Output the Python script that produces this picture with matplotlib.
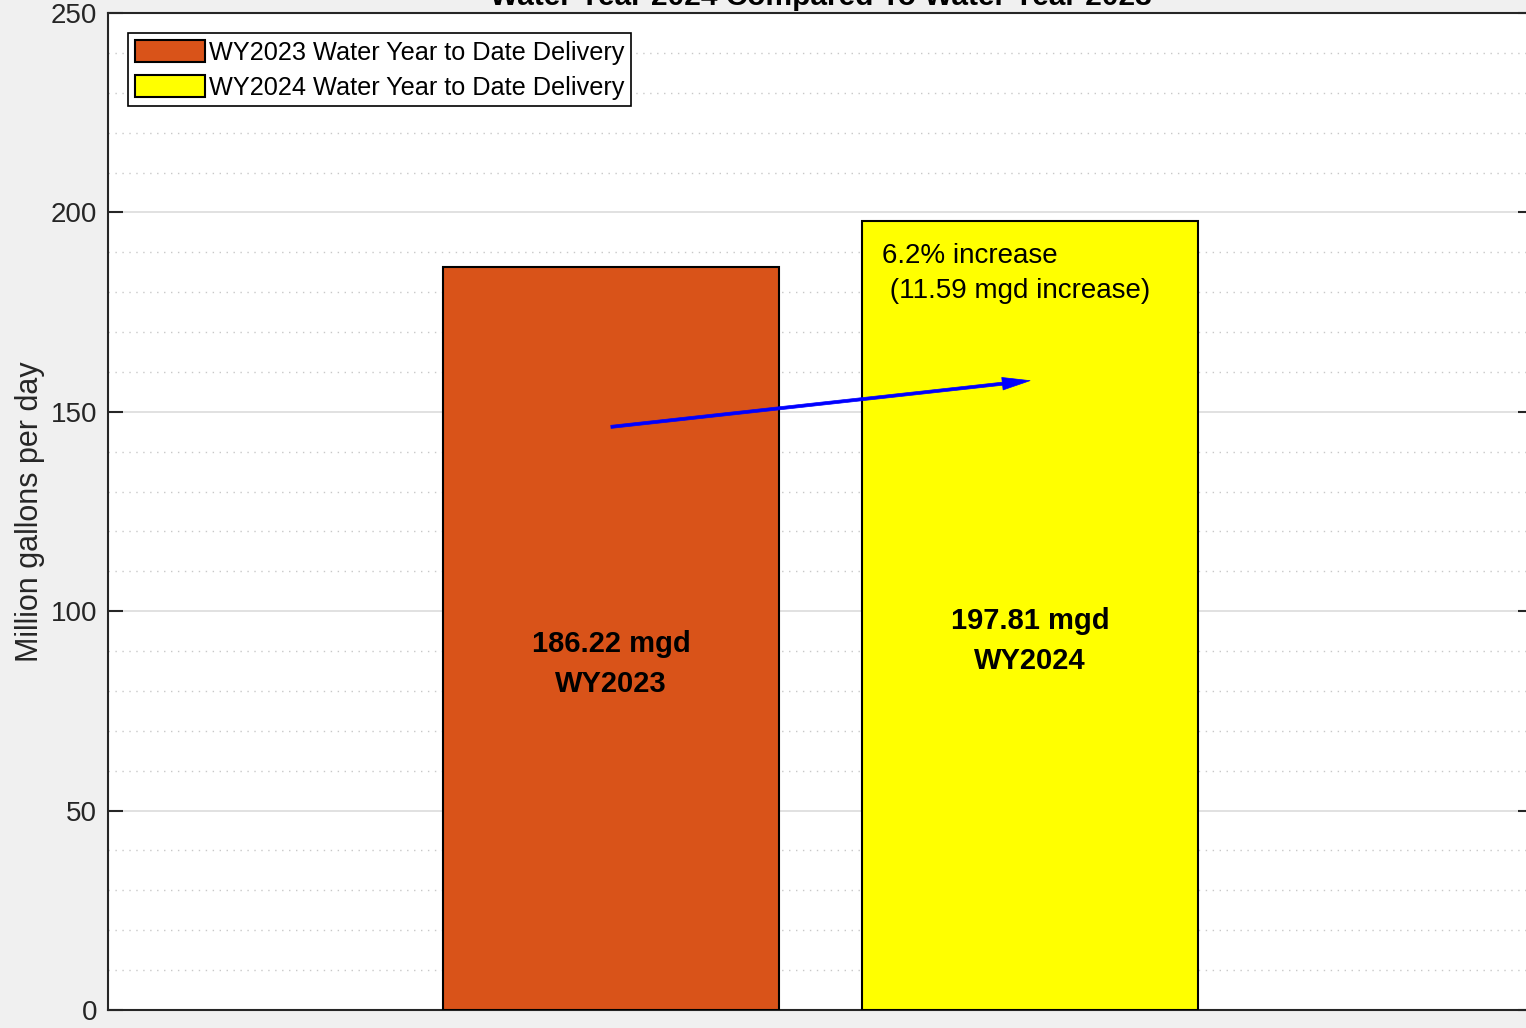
import matplotlib
matplotlib.use("Agg")
import matplotlib.pyplot as plt
from matplotlib.ticker import MultipleLocator

# ---- data ----
categories = ["WY2023", "WY2024"]
values = [186.22, 197.81]
legend_labels = ["WY2023 Water Year to Date Delivery", "WY2024 Water Year to Date Delivery"]
bar_colors = ["#D95319", "#FFFF00"]
arrow_start = 146.22
arrow_end = 157.81
annotation = "6.2% increase\n (11.59 mgd increase)"
yticks = [0, 50, 100, 150, 200, 250]
title = "Water Year 2024 Compared To Water Year 2023"

plt.rcParams['font.family'] = ['Liberation Sans', 'DejaVu Sans']

fig = plt.figure(figsize=(15.26, 10.28), dpi=100, facecolor="#f0f0f0")
W, H = 1526, 1028
ax_left, ax_right, ax_top, ax_bot = 108, 1533, 13, 1010
ax = fig.add_axes([ax_left / W, 1 - ax_bot / H, (ax_right - ax_left) / W, (ax_bot - ax_top) / H])
ax.set_facecolor("white")

xpos = [1, 2]
bars = ax.bar(xpos, values, width=0.8, color=bar_colors, edgecolor="black",
              linewidth=1.5, zorder=3)
for b, lab in zip(bars, legend_labels):
    b.set_label(lab)

ax.set_xlim(-0.2, 3.2)
ax.set_ylim(0, 250)
ax.set_xticks([])
ax.set_yticks(yticks)
ax.set_yticklabels([str(t) for t in yticks], fontsize=20, color="#262626")
ax.yaxis.set_minor_locator(MultipleLocator(10))
ax.tick_params(axis="y", which="major", direction="in", length=11, width=1.5,
               left=True, right=True, pad=8, color="#262626")
ax.tick_params(axis="y", which="minor", length=0)
ax.grid(axis="y", which="major", color="#dcdcdc", linewidth=1.2, zorder=0)
ax.grid(axis="y", which="minor", color="#c8c8c8", linestyle=(0, (1, 4)), linewidth=1.0, zorder=0)
ax.set_axisbelow(True)
for s in ax.spines.values():
    s.set_color("#262626")
    s.set_linewidth(1.5)

ax.set_ylabel("Million gallons per day", fontsize=22, color="#262626", labelpad=4)

# bar value labels
for x, v, c in zip(xpos, values, categories):
    ax.annotate(f"{v:.2f} mgd\n{c}", xy=(x, v / 2), xytext=(0, 6), textcoords="offset points",
                ha="center", va="top", fontsize=21, fontweight="bold", linespacing=1.55,
                zorder=5)

# arrow (tip exactly at the end point)
ax.annotate("", xy=(2, arrow_end), xytext=(1, arrow_start),
            arrowprops=dict(facecolor="#0000FF", edgecolor="#0000FF", lw=0.5,
                            width=2.2, headwidth=9, headlength=20, shrink=0),
            zorder=6)

ax.text(1.647, 192.3, annotation, ha="left", va="top", fontsize=20, linespacing=1.45, zorder=5)

# title (clipped at top of the image, as in the reference)
fig.text(((ax_left + ax_right) / 2) / W, 1 - 5 / H, title, ha="center", va="baseline",
         fontsize=21.5, fontweight="bold", color="#000000")

leg = ax.legend(loc="upper left", fontsize=18.2, frameon=True, fancybox=False,
                edgecolor="black", framealpha=1, handlelength=2.8, handleheight=1.0,
                handletextpad=0.15, borderpad=0.25, labelspacing=0.4, borderaxespad=0.8)
leg.get_frame().set_linewidth(1.2)
leg.set_zorder(10)

fig.savefig("out.png", dpi=100, facecolor=fig.get_facecolor())
